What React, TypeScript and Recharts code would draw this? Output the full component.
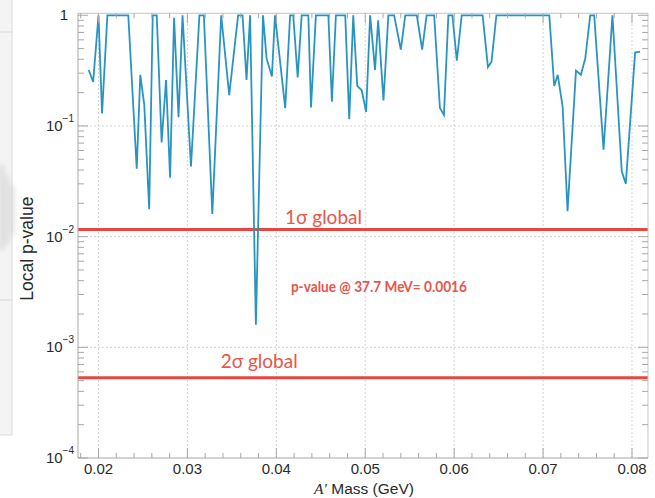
import React from 'react';
import { LineChart, Line, XAxis, YAxis, ReferenceLine, ReferenceDot } from 'recharts';

// Scan points: A' mass hypothesis (MeV) and the local p-value at each one
const massMeV = [
  18.9, 19.4, 20.0, 20.4, 21.0, 23.35, 24.3, 24.7, 25.15, 25.7,
  26.1, 26.55, 27.1, 27.6, 28.05, 28.5, 29.0, 29.45, 30.4, 31.35,
  31.85, 32.8, 33.8, 34.7, 35.7, 36.2, 36.65, 37.05, 37.7, 38.5,
  38.9, 39.5, 39.85, 41.0, 41.55, 41.9, 42.4, 42.85, 43.6, 43.9,
  44.45, 45.85, 46.25, 46.7, 47.75, 48.2, 48.65, 49.1, 49.6, 50.1,
  50.55, 51.1, 51.45, 52.05, 52.6, 53.25, 54.0, 54.5, 55.8, 56.4,
  56.9, 57.75, 58.4, 58.85, 59.35, 59.8, 60.3, 60.85, 63.2, 63.8,
  64.2, 64.75, 70.7, 71.25, 71.65, 72.2, 72.75, 73.7, 74.25, 74.75,
  75.3, 75.75, 76.8, 77.8, 78.85, 79.3, 80.35, 80.9,
];
const localP = [
  0.32, 0.25, 1, 0.13, 1, 1, 0.041, 0.29, 0.155, 0.0177,
  1, 1, 0.071, 0.26, 0.034, 0.95, 0.12, 1, 0.043, 1,
  1, 0.016, 1, 0.19, 1, 1, 0.26, 1, 0.0016, 1,
  0.41, 0.28, 1, 0.145, 1, 1, 0.275, 1, 1, 0.147,
  1, 1, 0.166, 1, 1, 0.115, 1, 0.23, 0.21, 0.134,
  1, 0.32, 0.9, 0.17, 1, 1, 0.49, 1, 1, 0.49,
  1, 1, 0.145, 0.126, 1, 1, 0.39, 1, 1, 0.34,
  0.38, 1, 1, 0.23, 0.29, 0.149, 0.017, 0.316, 0.29, 0.41,
  1, 1, 0.061, 1, 0.039, 0.030, 0.46, 0.47,
];

// Global significance thresholds
const sigmaLabels = ['1σ global', '2σ global'];
const sigmaP = [0.0116, 0.00053];

// Most significant point
const bestMassMeV = 37.7;
const bestP = 0.0016;

// Axes
const massRange = [0.017695, 0.0818];
const pRange = [1e-4, 1.042];
const massMajor = [0.02, 0.03, 0.04, 0.05, 0.06, 0.07, 0.08];
const massMajorLabels = ['0.02', '0.03', '0.04', '0.05', '0.06', '0.07', '0.08'];
const massMinor = [0.018, 0.022, 0.024, 0.026, 0.028, 0.032, 0.034, 0.036, 0.038,
  0.042, 0.044, 0.046, 0.048, 0.052, 0.054, 0.056, 0.058, 0.062, 0.064, 0.066,
  0.068, 0.072, 0.074, 0.076, 0.078];
const pDecades = [1e-4, 1e-3, 1e-2, 1e-1, 1];
const pDecadeBase = ['10', '10', '10', '10', '1'];
const pDecadeExp = ['−4', '−3', '−2', '−1', ''];
const pMinorMultipliers = [2, 3, 4, 5, 6, 7, 8, 9];

const pMinor: number[] = [];
pDecades.slice(0, 4).forEach((d) => pMinorMultipliers.forEach((k) => pMinor.push(+(d * k).toPrecision(3))));

const massTicks = [...massMinor, ...massMajor].sort((a, b) => a - b);
const pTicks = [...pMinor, ...pDecades].sort((a, b) => a - b);

const data = massMeV.map((m, i) => ({ mass: m / 1000, p: localP[i] }));

const FRAME = '#a8a8a8';
const TICK_FONT = '"Liberation Sans", Arial, sans-serif';
const RED = '#e9473d';
const RED_TEXT = '#e8554a';
const CURVE = '#2894c2';

const near = (a: number, b: number) => Math.abs(a - b) <= 1e-9 * Math.max(1e-6, Math.abs(a));

const BottomTick = (props: any) => {
  const { x, y, payload } = props;
  const v = payload.value;
  const idx = massMajor.findIndex((a) => Math.abs(a - v) < 1e-9);
  const len = idx >= 0 ? 10 : 5;
  return (
    <g>
      <line x1={x} y1={y} x2={x} y2={y - len} stroke={FRAME} strokeWidth={1} />
      {idx >= 0 && (
        <text x={x} y={y + 16} textAnchor="middle" fontFamily={TICK_FONT} fontSize={15} fill="#2a2a2a">
          {massMajorLabels[idx]}
        </text>
      )}
    </g>
  );
};

const TopTick = (props: any) => {
  const { x, y, payload } = props;
  const len = massMajor.some((a) => Math.abs(a - payload.value) < 1e-9) ? 10 : 5;
  return <line x1={x} y1={y} x2={x} y2={y + len} stroke={FRAME} strokeWidth={1} />;
};

const LeftTick = (props: any) => {
  const { x, y, payload } = props;
  const v = payload.value;
  const idx = pDecades.findIndex((d) => near(d, v));
  const len = idx >= 0 ? 10 : 6;
  return (
    <g>
      <line x1={x} y1={y} x2={x + len} y2={y} stroke={FRAME} strokeWidth={1} />
      {idx >= 0 && pDecadeExp[idx] === '' && (
        <text x={x - 10} y={y + 5} textAnchor="end" fontFamily={TICK_FONT} fontSize={15} fill="#2a2a2a">
          {pDecadeBase[idx]}
        </text>
      )}
      {idx >= 0 && pDecadeExp[idx] !== '' && (
        <text x={x - 4} y={y + 5} textAnchor="end" fontFamily={TICK_FONT} fontSize={15} fill="#2a2a2a">
          {pDecadeBase[idx]}
          <tspan fontSize={10} dy={-9}>{pDecadeExp[idx]}</tspan>
        </text>
      )}
    </g>
  );
};

const RightTick = (props: any) => {
  const { x, y, payload } = props;
  const len = pDecades.some((d) => near(d, payload.value)) ? 10 : 6;
  return <line x1={x} y1={y} x2={x - len} y2={y} stroke={FRAME} strokeWidth={1} />;
};

const sigmaLabelOffset = [
  { dx: 207, dy: -5.5 },
  { dx: 142.7, dy: -9.5 },
];

const SlideBackdrop = () => (
  <svg width={655} height={498} style={{ position: 'absolute', left: 0, top: 0 }}>
    <defs>
      <filter id="soft" x="-50%" y="-50%" width="200%" height="200%">
        <feGaussianBlur stdDeviation="2.5" />
      </filter>
    </defs>
    <rect x={-1} y={-1} width={13} height={436} fill="#f4f4f4" stroke="#dcdcdc" />
    <line x1={0} y1={32} x2={12} y2={32} stroke="#d6d6d6" />
    <line x1={0} y1={300} x2={12} y2={300} stroke="#d6d6d6" />
    <g filter="url(#soft)" fill="#cfcfcf" opacity={0.8}>
      <rect x={0} y={165} width={4} height={85} />
      <rect x={6} y={175} width={3} height={70} />
      <rect x={11} y={185} width={3} height={50} />
    </g>
  </svg>
);

export default function App() {
  return (
    <div style={{ position: 'absolute', left: 0, top: 0, width: 655, height: 498, background: '#fff' }}>
      <SlideBackdrop />
      <div style={{ position: 'absolute', left: 0, top: 0 }}>
        <LineChart width={655} height={498} data={data} margin={{ top: 12.3, right: 6, bottom: 0, left: 8 }}>
          <XAxis
            dataKey="mass"
            type="number"
            domain={massRange}
            allowDataOverflow
            ticks={massTicks}
            interval={0}
            tick={<BottomTick />}
            tickLine={false}
            tickSize={0}
            tickMargin={0}
            height={40}
            axisLine={{ stroke: FRAME }}
            label={(p: any) => {
              const vb = p.viewBox;
              return (
                <text x={vb.x + vb.width / 2 + 1} y={vb.y + 36} textAnchor="middle" fontFamily={TICK_FONT} fontSize={15.5} fill="#2a2a2a">
                  <tspan fontFamily='"Liberation Serif", "Times New Roman", serif' fontStyle="italic">A′</tspan>
                  <tspan> Mass (GeV)</tspan>
                </text>
              );
            }}
          />
          <XAxis
            xAxisId="top"
            orientation="top"
            dataKey="mass"
            type="number"
            domain={massRange}
            allowDataOverflow
            ticks={massTicks}
            interval={0}
            tick={<TopTick />}
            tickLine={false}
            tickSize={0}
            tickMargin={0}
            height={1}
            axisLine={{ stroke: '#c4c4c4' }}
          />
          <YAxis
            dataKey="p"
            type="number"
            scale="log"
            domain={pRange}
            allowDataOverflow
            ticks={pTicks}
            interval={0}
            tick={<LeftTick />}
            tickLine={false}
            tickSize={0}
            tickMargin={0}
            width={70}
            axisLine={{ stroke: FRAME }}
            label={(p: any) => {
              const vb = p.viewBox;
              const cx = vb.x + vb.width - 45;
              const cy = vb.y + vb.height / 2 + 13;
              return (
                <text x={cx} y={cy} transform={`rotate(-90 ${cx} ${cy})`} textAnchor="middle" fontFamily={TICK_FONT} fontSize={17.5} fill="#2a2a2a">
                  Local p-value
                </text>
              );
            }}
          />
          <YAxis
            yAxisId="right"
            orientation="right"
            dataKey="p"
            type="number"
            scale="log"
            domain={pRange}
            allowDataOverflow
            ticks={pTicks}
            interval={0}
            tick={<RightTick />}
            tickLine={false}
            tickSize={0}
            tickMargin={0}
            width={1}
            axisLine={{ stroke: '#c4c4c4' }}
          />

          {pDecades.slice(1, 4).map((d) => (
            <ReferenceLine key={`gy${d}`} y={d} stroke="#d4d4d4" strokeDasharray="2 2" />
          ))}
          {massMajor.map((m) => (
            <ReferenceLine key={`gx${m}`} x={m} stroke="#d4d4d4" strokeDasharray="2 2" />
          ))}

          {sigmaP.map((pv, i) => (
            <ReferenceLine
              key={sigmaLabels[i]}
              y={pv}
              stroke={RED}
              strokeWidth={3}
              label={(lp: any) => {
                const vb = lp.viewBox;
                return (
                  <text x={vb.x + sigmaLabelOffset[i].dx} y={vb.y + sigmaLabelOffset[i].dy} fontFamily='Lato, "Open Sans", sans-serif' fontSize={19} fill={RED_TEXT}>
                    {sigmaLabels[i]}
                  </text>
                );
              }}
            />
          ))}

          <Line
            dataKey="p"
            type="linear"
            stroke={CURVE}
            strokeWidth={1.8}
            dot={false}
            activeDot={false}
            isAnimationActive={false}
          />
          <Line
            xAxisId="top"
            yAxisId="right"
            dataKey="p"
            stroke="none"
            dot={false}
            activeDot={false}
            legendType="none"
            isAnimationActive={false}
          />

          <ReferenceDot
            x={bestMassMeV / 1000}
            y={bestP}
            r={0}
            fill="none"
            stroke="none"
            label={(lp: any) => {
              const vb = lp.viewBox;
              return (
                <text
                  x={vb.x + 35}
                  y={vb.y - 33}
                  fontFamily='Lato, "Open Sans", sans-serif'
                  fontWeight="bold"
                  fontSize={15}
                  textLength={176}
                  lengthAdjust="spacingAndGlyphs"
                  fill={RED_TEXT}
                >
                  {`p-value @ ${bestMassMeV} MeV= ${bestP}`}
                </text>
              );
            }}
          />
        </LineChart>
      </div>
    </div>
  );
}
